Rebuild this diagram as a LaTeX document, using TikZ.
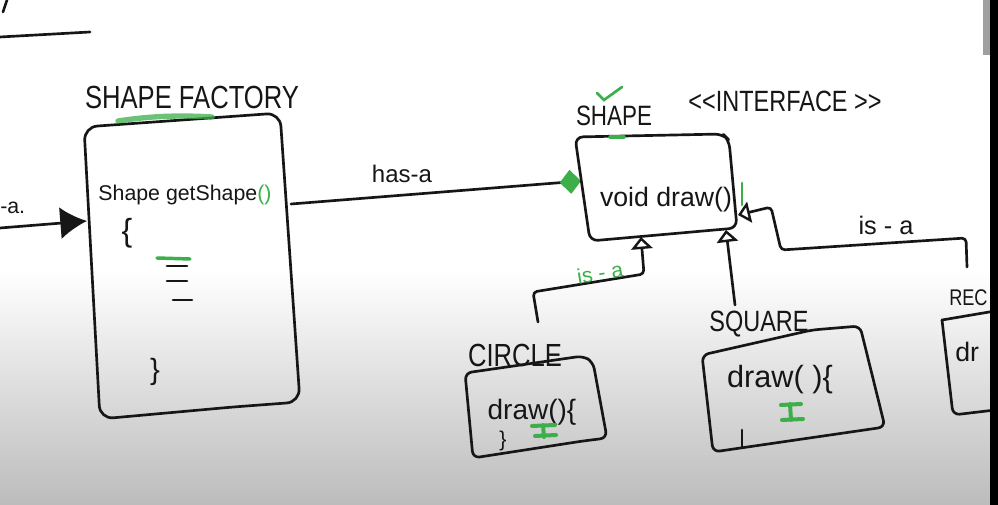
\documentclass[tikz,border=0pt]{standalone}
\usepackage{fontspec}
\usepackage{graphicx}
\setmainfont{Liberation Sans}
\usetikzlibrary{arrows.meta}
\definecolor{hgreen}{RGB}{60,175,75}
\definecolor{inkc}{RGB}{22,22,22}
\definecolor{boardgray}{RGB}{188,188,188}
\newcommand\hnarrow[1]{\scalebox{0.8}[1]{#1}}
\begin{document}
\begin{tikzpicture}[x=0.75pt,y=-0.75pt,
  pen/.style={draw=inkc, line width=2pt, line cap=round, line join=round},
  boxline/.style={pen, rounded corners=6pt},
  conn/.style={rounded corners=3pt},
  gen/.style={-{Triangle[open,length=9pt,width=16pt,line width=1.8pt]}},
  lbl/.style={inner sep=0pt, text=inkc},
  caps/.style={lbl, font=\fontsize{22}{22}\selectfont},
  code/.style={lbl, font=\fontsize{20}{20}\selectfont},
  gmark/.style={draw=hgreen, line width=2.6pt, line cap=round},
]
\useasboundingbox (0,0) rectangle (998,505);
% board background
\fill[white] (0,0) rectangle (998,505);
\shade[top color=white, bottom color=boardgray] (0,270) rectangle (998,505);
\fill[gray!75] (983,0) rectangle (990,55);

% top-left fragments
\draw[pen] (7,0) -- (3,12);
\draw[pen] (0,37) -- (90,32);

% SHAPE FACTORY
\node[caps, font=\fontsize{24}{24}\selectfont] (tFac) at (192,97) {\hnarrow{SHAPE FACTORY}};
\draw[boxline, rounded corners=10pt] (84,127) -- (280,113) -- (300,402) -- (233,407) -- (100,419) -- cycle;
\draw[gmark, opacity=0.75, line width=4pt] (118,121) .. controls (150,116) and (180,115) .. (212,117);
\node[code, font=\fontsize{16}{16}\selectfont] (getS) at (185,195) {Shape getShape\textcolor{hgreen}{()}};
\node[lbl, font=\fontsize{24}{24}\selectfont] (ob1) at (127,233) {\{};
\draw[gmark] (157,258) -- (190,259);
\draw[pen] (167,266) -- (187,266);
\draw[pen] (167,281) -- (187,281);
\draw[pen] (173,300) -- (192,300);
\node[lbl, font=\fontsize{22}{22}\selectfont] (cb1) at (155,372) {\}};

% incoming arrow
\node[lbl, anchor=west, font=\fontsize{16}{16}\selectfont] (lfrag) at (0,208) {-a.};
\coordinate (inStart) at (0,228);
\coordinate (facL) at (87,221);
\draw[pen, -{Latex[length=20pt,width=24pt]}] (inStart) -- (facL);

% has-a
\coordinate (facR) at (291,204);
\coordinate (shpL) at (581,181);
\draw[pen, -{Diamond[length=16pt,width=18pt,color=hgreen,fill=hgreen]}] (facR) -- (shpL);
\node[code, font=\fontsize{18}{18}\selectfont] (hasa) at (402,174) {has-a};

% SHAPE interface
\node[caps, font=\fontsize{21}{21}\selectfont] (tShape) at (614,116) {\hnarrow{SHAPE}};
\node[caps] (tIntf) at (785,101) {\hnarrow{{<}{<}INTERFACE {>}{>}}};
\draw[gmark, line width=2pt] (597,93) -- (604,100) -- (622,87);
\draw[boxline] (575,137) -- (723,134) -- (729,140) -- (737,228) -- (590,241) -- cycle;
\draw[gmark] (610,137) -- (624,137);
\node[code] (vdraw) at (666,200) {void draw()};
\draw[gmark, line width=2pt] (742,183) -- (742,205);
\coordinate (shpB1) at (641,237);
\coordinate (shpB2) at (726,230);
\coordinate (shpR) at (738,215);

% CIRCLE
\node[caps, font=\fontsize{24}{24}\selectfont] (tCir) at (515,355) {\hnarrow{CIRCLE}};
\draw[boxline, rounded corners=5pt] (465,373) -- (583,356) -- (593,362) -- (607,438) -- (583,441) -- (473,458) -- cycle;
\node[code, font=\fontsize{21}{21}\selectfont] (cdraw) at (532,412) {draw()\{};
\draw[gmark, line width=3pt] (532,426) -- (555,425) (543,425) -- (544,437) (535,436) -- (556,435);
\node[lbl, font=\fontsize{16}{16}\selectfont] (cb2) at (503,441) {\}};
\coordinate (cirTop) at (538,322);
\draw[pen, conn, gen] (cirTop) -- (533,292) -- (644,274) -- (shpB1);
\node[lbl, text=hgreen, font=\fontsize{16}{16}\selectfont, rotate=9] (isa1) at (600,273) {is - a};

% SQUARE
\node[caps] (tSq) at (759,324) {\hnarrow{SQUARE}};
\draw[boxline, rounded corners=5pt] (702,355) -- (812,330) -- (860,326) -- (885,427) -- (713,452) -- cycle;
\node[code, font=\fontsize{23}{23}\selectfont] (sdraw) at (780,380) {draw( )\{};
\draw[gmark, line width=3pt] (781,405) -- (801,404) (790,404) -- (791,420) (782,420) -- (803,419);
\draw[pen] (742,430) -- (742,447);
\coordinate (sqTop) at (735,305);
\draw[pen, gen] (sqTop) -- (shpB2);

% RECTANGLE (cut off by the screen edge)
\node[caps, anchor=west, font=\fontsize{17}{17}\selectfont] (tRec) at (949,298) {\hnarrow{REC}};
\draw[pen] (942,320) -- (995,311);
\draw[pen, rounded corners=5pt] (942,320) -- (953,415) -- (995,410);
\node[code, anchor=west] (rdraw) at (955,352) {dr};
\coordinate (recTop) at (967,267);
\draw[pen, conn, gen] (recTop) -- (966,238) -- (781,250) -- (771,207) -- (shpR);
\node[code, font=\fontsize{19}{19}\selectfont] (isa2) at (886,225) {is - a};

% right screen edge on top
\fill[black] (990,0) rectangle (998,505);
\end{tikzpicture}
\end{document}
